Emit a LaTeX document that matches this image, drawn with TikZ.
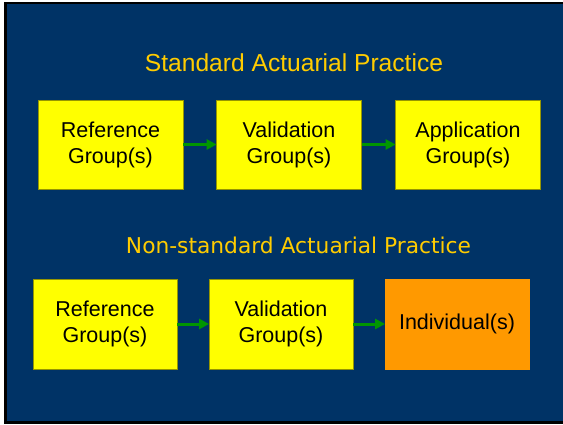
\documentclass[tikz,border=0pt]{standalone}
\usepackage{fontspec}
\setmainfont{Liberation Sans}
\newfontfamily\titlefont{DejaVu Sans}
\usetikzlibrary{arrows.meta}
\definecolor{bgblue}{RGB}{0,51,102}
\definecolor{boxyellow}{RGB}{255,255,0}
\definecolor{boxorange}{RGB}{255,153,0}
\definecolor{titlegold}{RGB}{255,204,0}
\definecolor{arrgreen}{RGB}{0,150,0}
\definecolor{boxedge}{RGB}{150,150,0}
\tikzset{
  groupbox/.style={draw=boxedge, line width=0.8pt, fill=boxyellow, minimum width=145pt, minimum height=89pt, align=center, inner sep=0pt, font=\fontsize{21.5}{26}\selectfont},
  indivbox/.style={groupbox, fill=boxorange, draw=boxorange},
  flowarrow/.style={draw=arrgreen, line width=3pt, -{Triangle[length=10pt,width=10pt]}, shorten >=-0.5pt},
  titletext/.style={text=titlegold, inner sep=0pt}
}
\begin{document}
\begin{tikzpicture}[x=1pt,y=-1pt]
\useasboundingbox (0,0) rectangle (563,424);
\fill[white] (0,0) rectangle (563,424);
\fill[black] (4,2) rectangle (563,424);
\fill[bgblue] (7,4) rectangle (563,421);
\node[titletext, font=\fontsize{24.6}{28}\selectfont] (t1) at (294,63) {Standard Actuarial Practice};
\node[groupbox] (b1) at (110.5,144.5) {Reference\\Group(s)};
\node[groupbox] (b2) at (289,144.5) {Validation\\Group(s)};
\node[groupbox] (b3) at (468,144.5) {Application\\Group(s)};
\draw[flowarrow] (b1.east) -- (b2.west);
\draw[flowarrow] (b2.east) -- (b3.west);
\node[titletext] (t2) at (298.5,245.5) {\resizebox{345pt}{!}{\titlefont\fontsize{20}{24}\selectfont Non-standard Actuarial Practice}};
\node[groupbox, minimum width=144pt, minimum height=90pt] (c1) at (105,324) {Reference\\Group(s)};
\node[groupbox, minimum width=144pt, minimum height=90pt] (c2) at (281,324) {Validation\\Group(s)};
\node[indivbox, minimum width=144pt, minimum height=90pt] (c3) at (457,324) {Individual(s)};
\draw[flowarrow] (c1.east) -- (c2.west);
\draw[flowarrow] (c2.east) -- (c3.west);
\end{tikzpicture}
\end{document}
